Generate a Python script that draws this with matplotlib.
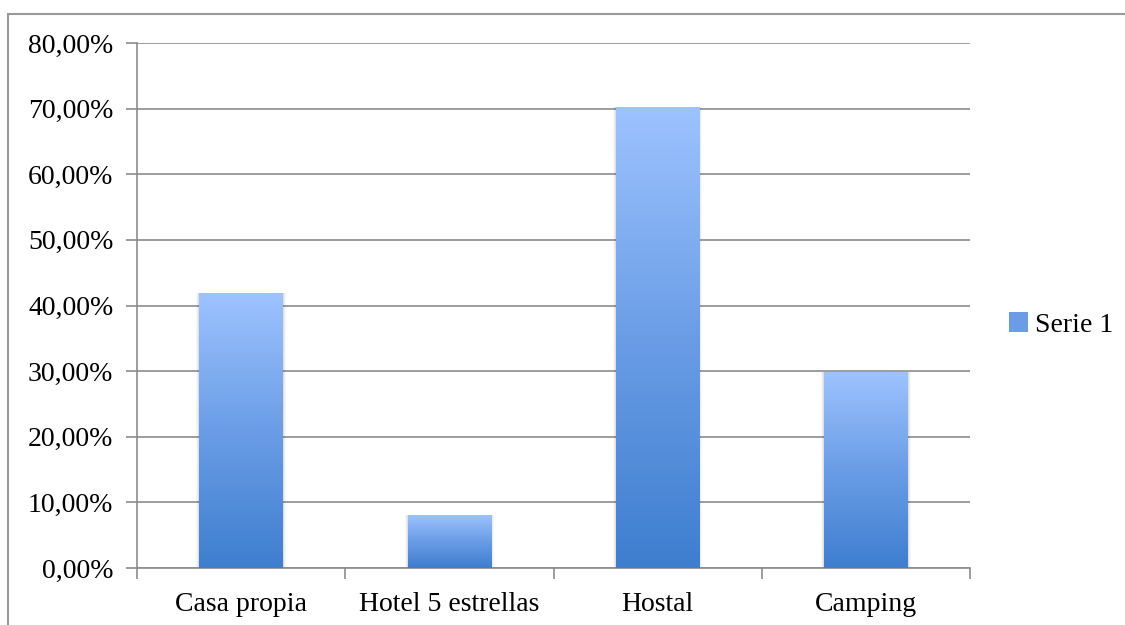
import numpy as np
import matplotlib
matplotlib.use("Agg")
import matplotlib.pyplot as plt
from matplotlib.patches import Rectangle, Patch
from matplotlib.colors import LinearSegmentedColormap
from matplotlib.ticker import FuncFormatter, MultipleLocator

categories = ["Casa propia", "Hotel 5 estrellas", "Hostal", "Camping"]
values = [41.9, 8.1, 70.3, 29.8]
series_name = "Serie 1"

plt.rcParams['font.family'] = ['Liberation Serif', 'DejaVu Serif']

W, H = 1125, 625
fig = plt.figure(figsize=(W / 100, H / 100), dpi=100)

# outer chart frame (clipped by the image at right and bottom)
fig.patches.append(Rectangle((8 / W, -0.05), 1.2, 1.05 - 14 / H, transform=fig.transFigure,
                             fill=False, edgecolor="#999999", lw=1.5))

ax = fig.add_axes([137 / W, (H - 568) / H, (970 - 137) / W, (568 - 43) / H])

grad = LinearSegmentedColormap.from_list("g", ["#3E7ECF", "#6A9DE6", "#9DC3FF"])
x = np.arange(len(categories))
bars = ax.bar(x, values, width=0.40, color="none", edgecolor="none", zorder=3)
img = np.linspace(0, 1, 256).reshape(-1, 1)
for b in bars:
    x0, y0, w, h = b.get_x(), b.get_y(), b.get_width(), b.get_height()
    # soft shadow
    for i, a in enumerate([0.06, 0.04, 0.03]):
        d = 0.005 * (i + 1)
        ax.add_patch(Rectangle((x0 - d, y0), w + 2 * d, h, facecolor="#000000",
                               alpha=a, edgecolor="none", zorder=2.5))
    im = ax.imshow(img, cmap=grad, origin="lower", aspect="auto",
                   extent=[x0, x0 + w, y0, y0 + h], zorder=3)
    im.set_clip_path(b)

ax.set_xlim(-0.5, len(categories) - 0.5)
ax.set_ylim(0, 80)
ax.yaxis.set_major_locator(MultipleLocator(10))
ax.yaxis.set_major_formatter(FuncFormatter(lambda v, p: f"{v:.2f}%".replace(".", ",")))
ax.grid(axis="y", color="#8c8c8c", lw=1.2, zorder=1)
ax.set_axisbelow(True)

ax.set_xticks(np.arange(len(categories) + 1) - 0.5)
ax.set_xticklabels([])
ax.set_xticks(x, minor=True)
ax.set_xticklabels(categories, minor=True)
ax.tick_params(axis="x", which="minor", length=0, pad=17, labelsize=20)
ax.tick_params(axis="x", which="major", length=8, color="#8c8c8c", width=1.2)
ax.tick_params(axis="y", length=8, color="#8c8c8c", width=1.2, labelsize=20, pad=9)

for s in ["top", "right"]:
    ax.spines[s].set_visible(False)
for s in ["left", "bottom"]:
    ax.spines[s].set_color("#8c8c8c")
    ax.spines[s].set_linewidth(1.2)

handle = Patch(facecolor="#6A9DE6", edgecolor="none")
fig.legend([handle], [series_name], loc="center left", bbox_to_anchor=(1009 / W, 1 - 325 / H),
           frameon=False, fontsize=20, handlelength=0.7, handleheight=0.7, handletextpad=0.25,
           borderpad=0, borderaxespad=0)

fig.savefig("out.png", dpi=100)
